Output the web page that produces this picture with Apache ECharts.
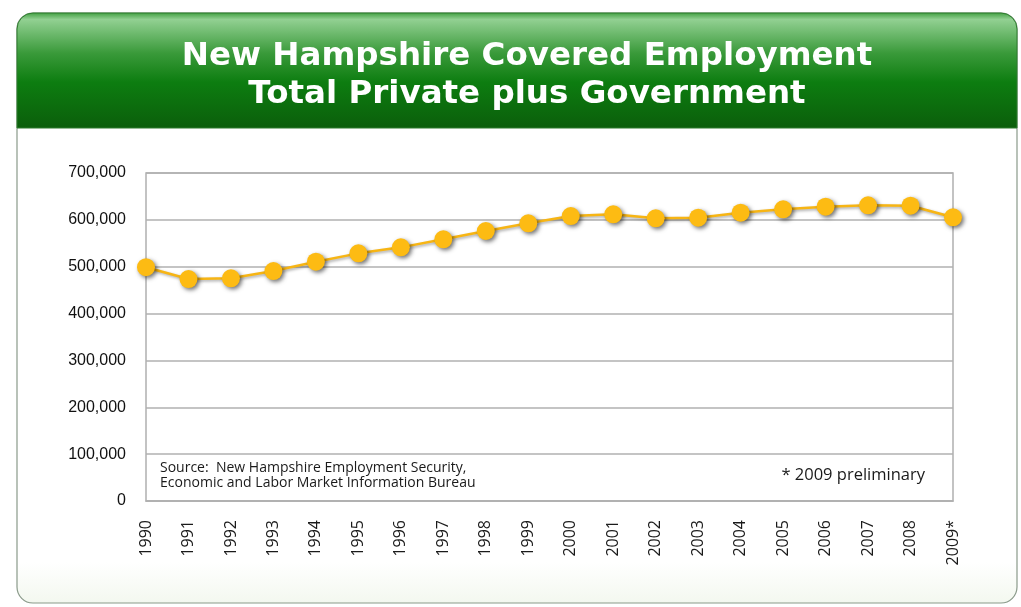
<!DOCTYPE html>
<html>
<head>
<meta charset="utf-8">
<script src="https://cdn.jsdelivr.net/npm/echarts@6/dist/echarts.min.js"></script>
<style>
  html, body { margin: 0; padding: 0; background: #ffffff; }
  #chart { width: 1021px; height: 607px; }
</style>
</head>
<body>
<div id="chart"></div>
<script>
// Annual covered employment, New Hampshire (private + government)
const years = ['1990', '1991', '1992', '1993', '1994', '1995', '1996', '1997', '1998', '1999',
               '2000', '2001', '2002', '2003', '2004', '2005', '2006', '2007', '2008', '2009*'];
const employment = [499000, 473700, 475200, 490800, 510700, 528500, 541300, 558400, 576200, 592600,
                    608200, 611800, 603300, 604600, 615200, 622400, 628000, 631000, 630200, 605400];
const titleLines = ['New Hampshire Covered Employment', 'Total Private plus Government'];
const sourceLines = ['Source:  New Hampshire Employment Security,', 'Economic and Labor Market Information Bureau'];
const footnote = '* 2009 preliminary';

const chart = echarts.init(document.getElementById('chart'));

const option = {
  backgroundColor: '#ffffff',
  animation: false,
  graphic: [
    // card body
    {
      type: 'rect', z: -10, silent: true,
      shape: { x: 17, y: 13, width: 1000, height: 590, r: 16 },
      style: {
        fill: new echarts.graphic.LinearGradient(0, 0, 0, 1, [
          { offset: 0, color: '#ffffff' },
          { offset: 0.93, color: '#ffffff' },
          { offset: 1, color: '#f3f8ef' }
        ]),
        stroke: '#8a9a8a', lineWidth: 1.2
      }
    },
    // green header band
    {
      type: 'rect', z: -9, silent: true,
      shape: { x: 17, y: 13, width: 1000, height: 115, r: [16, 16, 0, 0] },
      style: {
        fill: new echarts.graphic.LinearGradient(0, 0, 0, 1, [
          { offset: 0, color: '#3f9e3f' },
          { offset: 0.06, color: '#92d092' },
          { offset: 0.35, color: '#3a9a3a' },
          { offset: 0.6, color: '#0d7d10' },
          { offset: 1, color: '#0b5e0b' }
        ]),
        stroke: '#2e7d2e', lineWidth: 1
      }
    },
    // two-line heading
    {
      type: 'text', z: 10, silent: true,
      x: 527, y: 38,
      style: {
        text: titleLines.join('\n'),
        align: 'center', verticalAlign: 'top',
        fontFamily: 'DejaVu Sans', fontWeight: 'bold',
        fontSize: 32.5, lineHeight: 38,
        fill: '#ffffff'
      }
    },
    {
      type: 'group', left: 160, top: 461, silent: true,
      children: [{
        type: 'text',
        style: {
          text: sourceLines.join('\n'),
          fontFamily: 'Open Sans', fontSize: 14, lineHeight: 15,
          fill: '#1a1a1a'
        }
      }]
    },
    {
      type: 'text', right: 96, top: 467, silent: true,
      style: {
        text: footnote,
        fontFamily: 'Open Sans', fontSize: 16.5,
        fill: '#1a1a1a'
      }
    }
  ],
  grid: {
    left: 146, right: 68, top: 173, bottom: 106,
    show: true, borderColor: '#b0b0b0', borderWidth: 1.5,
    backgroundColor: 'transparent'
  },
  xAxis: {
    type: 'category',
    data: years,
    boundaryGap: false,
    axisLine: { show: true, lineStyle: { color: '#b0b0b0', width: 1.5 } },
    axisTick: { show: false },
    axisLabel: {
      rotate: 90, margin: 19,
      color: '#1a1a1a', fontFamily: 'Open Sans', fontSize: 16
    }
  },
  yAxis: {
    type: 'value',
    min: 0, max: 700000, interval: 100000,
    axisLine: { show: false },
    axisTick: { show: false },
    splitLine: { lineStyle: { color: '#b0b0b0', width: 1.5 } },
    axisLabel: {
      margin: 20,
      color: '#111111', fontFamily: 'Liberation Sans', fontSize: 16,
      formatter: v => v.toLocaleString('en-US')
    }
  },
  series: [{
    type: 'line',
    data: employment,
    symbol: 'circle',
    symbolSize: 18,
    lineStyle: {
      color: '#f7b514', width: 2.5,
      shadowColor: 'rgba(0,0,0,0.35)', shadowBlur: 3, shadowOffsetX: 1.5, shadowOffsetY: 1.5
    },
    itemStyle: {
      color: '#fdbb13',
      shadowColor: 'rgba(0,0,0,0.55)', shadowBlur: 4, shadowOffsetX: 2, shadowOffsetY: 2
    },
    z: 5
  }]
};

chart.setOption(option);
</script>
</body>
</html>
